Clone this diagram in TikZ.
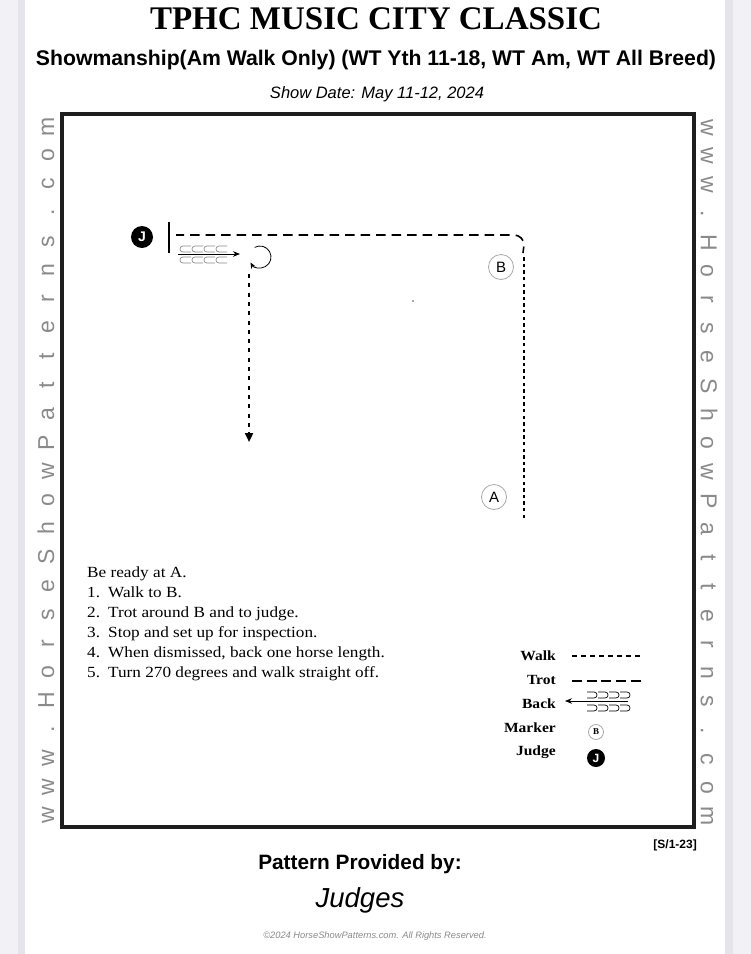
\documentclass[tikz,border=0pt]{standalone}
\usepackage{fontspec}
\setmainfont{Liberation Serif}
\newfontfamily\arial{Liberation Sans}
\newfontfamily\goudy[FakeStretch=1.11]{Liberation Serif}
\usetikzlibrary{arrows.meta,calc}
\definecolor{pagebg}{HTML}{F1F1F6}
\definecolor{shadowgray}{HTML}{E4E4EA}
\definecolor{sidegray}{HTML}{8A8A8A}
\definecolor{markgray}{HTML}{A8A8A8}
\definecolor{loopgray}{HTML}{8A8A8A}
\definecolor{arenaline}{HTML}{1E1E1E}
\newcommand{\sidech}[1]{\makebox[28.7pt]{#1}}
\newcommand{\sideword}{\sidech{w}\sidech{w}\sidech{w}\sidech{.}\sidech{H}\sidech{o}\sidech{r}\sidech{s}\sidech{e}\sidech{S}\sidech{h}\sidech{o}\sidech{w}\sidech{P}\sidech{a}\sidech{t}\sidech{t}\sidech{e}\sidech{r}\sidech{n}\sidech{s}\sidech{.}\sidech{c}\sidech{o}\sidech{m}}
\newcommand{\num}[1]{\makebox[21pt][l]{#1}}
\tikzset{
  walkdown/.style={line width=2.6pt, dash pattern=on 4pt off 5.3pt},
  walkright/.style={line width=2.4pt, dash pattern=on 3.5pt off 3.1pt},
  walkleg/.style={line width=1.5pt, dash pattern=on 5pt off 4pt},
  trotmain/.style={line width=1.6pt, dash pattern=on 9.5pt off 6pt},
  trotleg/.style={line width=1.6pt, dash pattern=on 10pt off 4.7pt},
  judge/.style={circle, fill=black, text=white, inner sep=0pt, minimum size=#1,
    font=\arial\bfseries\fontsize{14}{14}\selectfont},
  judge/.default=22pt,
  marker/.style={circle, draw=markgray, line width=0.8pt, inner sep=0pt, minimum size=25pt,
    font=\arial\fontsize{15}{15}\selectfont},
  smallmarker/.style={circle, draw=markgray, line width=0.8pt, inner sep=0pt, minimum size=15pt,
    font=\bfseries\fontsize{9}{9}\selectfont},
  legtxt/.style={anchor=east, inner sep=0pt, font=\goudy\bfseries\fontsize{14}{14}\selectfont},
  sidetxt/.style={inner sep=0pt, text=sidegray, font=\arial\fontsize{23}{23}\selectfont},
  backarrow/.style={line width=0.8pt, -{Stealth[length=7pt,width=5.5pt]}},
}
\begin{document}
\begin{tikzpicture}[x=1pt,y=-1pt]
\useasboundingbox (0,0) rectangle (751,954);
% page
\fill[pagebg] (0,0) rectangle (751,954);
\fill[shadowgray] (724,0) rectangle (733,954);
\fill[shadowgray] (18,0) rectangle (25,954);
\fill[white] (25,0) rectangle (725,954);

% header
\node[font=\bfseries\fontsize{33}{36}\selectfont, inner sep=0pt] (title) at (376,19) {TPHC MUSIC CITY CLASSIC};
\node[font=\arial\bfseries\fontsize{21.2}{24}\selectfont, inner sep=0pt] (subtitle) at (376,60) {Showmanship(Am Walk Only) (WT Yth 11-18, WT Am, WT All Breed)};
\node[font=\arial\itshape\fontsize{16.5}{18}\selectfont, inner sep=0pt] (date) at (377,94) {Show Date: May 11-12, 2024};

% side texts
\node[sidetxt, rotate=90] (lefttxt) at (46,471) {\sideword};
\node[sidetxt, rotate=-90] (righttxt) at (709,472) {\sideword};

% arena
\draw[arenaline, line width=4pt] (62,114) rectangle (694,827);

% markers
\node[judge] (J) at (142,237) {J};
\node[marker] (B) at (501,267) {B};
\node[marker] (A) at (494,497) {A};
\fill[loopgray] (413,301) circle (1.1pt);

% start bar
\coordinate (barTop) at (169,222);
\coordinate (barBot) at (169,253);
\draw[line width=1.2pt] (barTop) -- (barBot);

% walk A to B
\coordinate (walkA) at (524,518);
\coordinate (walkB) at (524,254);
\draw[walkright] (walkA) -- (walkB);

% trot around B to judge
\coordinate (trotEnd) at (176,235);
\coordinate (trotStart) at (523,253);
\draw[trotmain, dash phase=3pt] (trotStart) -- (524,245) to[out=90,in=0] (514,235) -- (trotEnd);

% back
\foreach \i in {0,1,2,3}{
  \foreach \yy in {249,260}{
    \draw[loopgray, line width=0.7pt] (180+12*\i+11,\yy-3) -- (180+12*\i+3,\yy-3)
      .. controls (180+12*\i-1,\yy-3) and (180+12*\i-1,\yy+3) .. (180+12*\i+3,\yy+3) -- (180+12*\i+11,\yy+3);
  }
}
\coordinate (backStart) at (178,254);
\coordinate (backEnd) at (240,254);
\draw[backarrow] (backStart) -- (backEnd);

% turn 270
\coordinate (turnStart) at ($(260,257)+(-119:11)$);
\draw[line width=0.8pt, -{Stealth[length=6pt,width=5pt]}] (turnStart) arc[start angle=-119, end angle=150, radius=11];

% walk off
\coordinate (offStart) at (249,274);
\coordinate (offEnd) at (249,442);
\draw[walkdown, -{Triangle[length=9pt,width=8pt]}] (offStart) -- (offEnd);

% instructions
\node[anchor=north west, inner sep=0pt, align=left, font=\goudy\fontsize{15.5}{20}\selectfont] (instr) at (87,567) {%
Be ready at A.\\
\num{1.}Walk to B.\\
\num{2.}Trot around B and to judge.\\
\num{3.}Stop and set up for inspection.\\
\num{4.}When dismissed, back one horse length.\\
\num{5.}Turn 270 degrees and walk straight off.};

% legend
\node[legtxt] (lgWalk) at (556,656) {Walk};
\coordinate (lgWalkA) at (572,656);
\coordinate (lgWalkB) at (643,656);
\draw[walkleg] (lgWalkA) -- (lgWalkB);
\node[legtxt] (lgTrot) at (556,680) {Trot};
\coordinate (lgTrotA) at (572,681);
\coordinate (lgTrotB) at (643,681);
\draw[trotleg] (lgTrotA) -- (lgTrotB);
\node[legtxt] (lgBack) at (556,704) {Back};
\foreach \i in {0,1,2,3}{
  \foreach \yy in {695,708}{
    \draw[line width=0.7pt] (630-11*\i-10,\yy-3) -- (630-11*\i-3,\yy-3)
      .. controls (630-11*\i+1,\yy-3) and (630-11*\i+1,\yy+3) .. (630-11*\i-3,\yy+3) -- (630-11*\i-10,\yy+3);
  }
}
\coordinate (lgBackA) at (628,701);
\coordinate (lgBackB) at (565,701);
\draw[backarrow] (lgBackA) -- (lgBackB);
\node[legtxt] (lgMarker) at (556,728) {Marker};
\node[smallmarker] (lgB) at (596,732) {B};
\node[legtxt] (lgJudge) at (556,752) {Judge};
\node[judge=18pt, font=\arial\bfseries\fontsize{12}{12}\selectfont] (lgJ) at (596,758) {J};

% footer
\node[anchor=east, inner sep=0pt, font=\arial\bfseries\fontsize{12}{12}\selectfont] (code) at (697,845) {[S/1-23]};
\node[inner sep=0pt, font=\arial\bfseries\fontsize{20.8}{22}\selectfont] (provided) at (360,864) {Pattern Provided by:};
\node[inner sep=0pt, font=\arial\itshape\fontsize{27.5}{30}\selectfont] (judges) at (360,900) {Judges};
\node[inner sep=0pt, text=loopgray, font=\arial\itshape\fontsize{9.3}{10}\selectfont] (copy) at (375,936) {\textcopyright2024 HorseShowPatterns.com. All Rights Reserved.};
\end{tikzpicture}
\end{document}
